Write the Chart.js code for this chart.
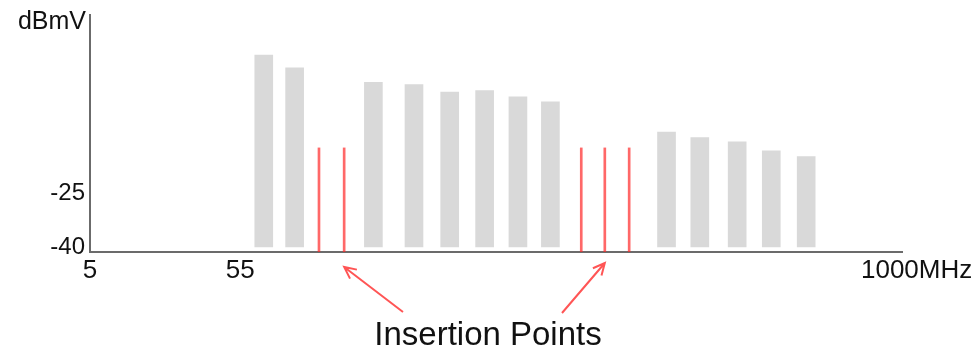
<!DOCTYPE html>
<html>
<head>
<meta charset="utf-8">
<script src="https://cdn.jsdelivr.net/npm/chart.js@4"></script>
<style>
  body { margin: 0; background: #fff; }
  #chart { display: block; }
</style>
</head>
<body>
<canvas id="chart" width="977" height="351"></canvas>
<script>
// channel slots along the band (schematic positions, 0 = 5 MHz, 100 = 1000 MHz)
const channelPos = [21.4, 25.2, 34.9, 39.9, 44.3, 48.6, 52.7, 56.7, 71.0, 75.1, 79.7, 83.9, 88.2];
const channelLevel = [13.3, 9.7, 5.7, 5.1, 3.0, 3.4, 1.7, 0.3, -8.1, -9.6, -10.8, -13.3, -14.9];

// inserted carriers
const insertPos = [28.2, 31.3, 60.5, 63.4, 66.4];
const insertLevel = [-12.5, -12.5, -12.5, -12.5, -12.5];

const xTickPos = [0, 18.5, 101.8];
const xTickText = ['5', '55', '1000MHz'];
const yTickVals = [-40, -25];

const Y_MIN = -41.4;
const Y_MAX = 24.4;
const FONT = '"Liberation Sans", Arial, sans-serif';

const annotations = {
  id: 'annotations',
  afterDraw(chart) {
    const ctx = chart.ctx;
    const x = chart.scales.x;
    const area = chart.chartArea;
    ctx.save();

    // unit label above the y axis
    ctx.fillStyle = '#111';
    ctx.font = '25px ' + FONT;
    ctx.textAlign = 'right';
    ctx.textBaseline = 'middle';
    ctx.fillText('dBmV', area.left - 4, 22);

    // callout text
    ctx.font = '33px ' + FONT;
    ctx.textAlign = 'center';
    ctx.fillText('Insertion Points', 488, 336);

    // arrows to the insertion points
    ctx.strokeStyle = '#ff5555';
    ctx.lineWidth = 2;
    const arrows = [
      { from: [403, 312], to: [x.getPixelForValue(insertPos[1]), area.bottom + 15] },
      { from: [562, 313], to: [x.getPixelForValue(insertPos[3]), area.bottom + 11] }
    ];
    arrows.forEach(a => {
      const [x0, y0] = a.from;
      const [x1, y1] = a.to;
      const ang = Math.atan2(y1 - y0, x1 - x0);
      const head = 13;
      ctx.beginPath();
      ctx.moveTo(x0, y0);
      ctx.lineTo(x1, y1);
      ctx.moveTo(x1 - head * Math.cos(ang - 0.45), y1 - head * Math.sin(ang - 0.45));
      ctx.lineTo(x1, y1);
      ctx.lineTo(x1 - head * Math.cos(ang + 0.45), y1 - head * Math.sin(ang + 0.45));
      ctx.stroke();
    });
    ctx.restore();
  }
};

new Chart(document.getElementById('chart'), {
  type: 'bar',
  data: {
    datasets: [
      {
        label: 'Channels',
        data: channelPos.map((p, i) => ({ x: p, y: channelLevel[i] })),
        backgroundColor: '#d9d9d9',
        barThickness: 18,
        base: -40,
        grouped: false
      },
      {
        label: 'Insertion',
        data: insertPos.map((p, i) => ({ x: p, y: insertLevel[i] })),
        backgroundColor: 'rgba(255, 40, 40, 0.7)',
        barThickness: 2,
        base: Y_MIN,
        grouped: false
      }
    ]
  },
  options: {
    responsive: false,
    animation: false,
    layout: { padding: { top: 15, right: 75, left: 0, bottom: 0 } },
    plugins: {
      legend: { display: false },
      tooltip: { enabled: false }
    },
    scales: {
      x: {
        type: 'linear',
        offset: false,
        min: 0,
        max: 100,
        grid: { display: false, drawTicks: false },
        border: { color: '#6b6b6b', width: 2 },
        afterBuildTicks: s => { s.ticks = xTickPos.map(v => ({ value: v })); },
        afterFit: s => { s.height = 99; },
        ticks: {
          autoSkip: false,
          maxRotation: 0,
          padding: 3,
          color: '#111',
          font: { family: FONT, size: 26 },
          callback: (v, i) => xTickText[i]
        }
      },
      y: {
        min: Y_MIN,
        max: Y_MAX,
        grid: { display: false, drawTicks: false },
        border: { color: '#6b6b6b', width: 2 },
        afterBuildTicks: s => { s.ticks = yTickVals.map(v => ({ value: v })); },
        afterFit: s => { s.width = 90; s.paddingTop = 0; s.paddingBottom = 0; },
        ticks: {
          padding: 5,
          color: '#111',
          font: { family: FONT, size: 24 },
          callback: v => String(v)
        }
      }
    }
  },
  plugins: [annotations]
});
</script>
</body>
</html>
